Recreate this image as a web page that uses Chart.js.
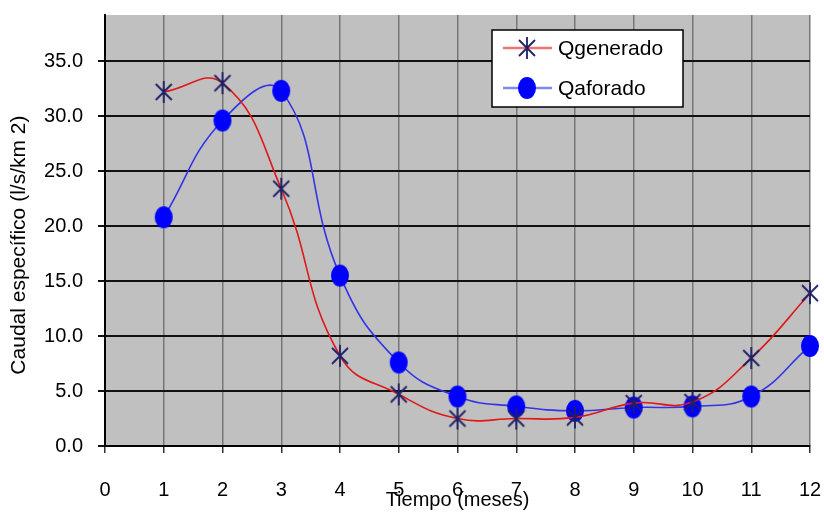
<!DOCTYPE html>
<html>
<head>
<meta charset="utf-8">
<script src="https://cdn.jsdelivr.net/npm/chart.js@4.4.1/dist/chart.umd.min.js"></script>
<style>
  html, body { margin: 0; padding: 0; background: #fff; }
  #wrap { width: 824px; height: 513px; }
</style>
</head>
<body>
<div id="wrap"><canvas id="grafico" width="824" height="513"></canvas></div>
<script>
// datos
var meses = [1, 2, 3, 4, 5, 6, 7, 8, 9, 10, 11, 12];
var qGenerado = [32.2, 33.0, 23.4, 8.2, 4.7, 2.5, 2.5, 2.6, 3.9, 4.0, 8.0, 13.9];
var qAforado = [20.8, 29.6, 32.3, 15.5, 7.6, 4.5, 3.6, 3.2, 3.5, 3.6, 4.5, 9.1];
var ticksY = [0, 5, 10, 15, 20, 25, 30, 35];
var etiquetas = ['Qgenerado', 'Qaforado'];

var fuente = "'Liberation Sans', Arial, sans-serif";

// marcador asterisco
function hacerAsterisco() {
    var c = document.createElement('canvas');
    c.width = 22; c.height = 24;
    var g = c.getContext('2d');
    g.strokeStyle = '#1f1f66';
    g.lineWidth = 1.8;
    g.beginPath();
    g.moveTo(3, 4); g.lineTo(19, 20);
    g.moveTo(19, 4); g.lineTo(3, 20);
    g.moveTo(11, 1); g.lineTo(11, 23);
    g.stroke();
    return c;
}

// marcador circulo (algo ovalado como en el original)
function hacerCirculo() {
    var c = document.createElement('canvas');
    c.width = 20; c.height = 24;
    var g = c.getContext('2d');
    g.fillStyle = '#0000ff';
    g.beginPath();
    g.ellipse(10, 12, 9, 11, 0, 0, Math.PI * 2);
    g.fill();
    return c;
}

var asterisco = hacerAsterisco();
var circulo = hacerCirculo();

function puntos(valores) {
    return meses.map(function (m, i) { return { x: m, y: valores[i] }; });
}

// fondo gris del area de trazado
var fondoPlugin = {
    id: 'fondo',
    beforeDraw: function (chart) {
        var a = chart.chartArea, ctx = chart.ctx;
        ctx.save();
        ctx.fillStyle = '#c0c0c0';
        ctx.fillRect(a.left, a.top, a.right - a.left, a.bottom - a.top);
        ctx.restore();
    }
};

// leyenda dentro del grafico
var leyendaPlugin = {
    id: 'leyendaInterna',
    afterDraw: function (chart) {
        var a = chart.chartArea, ctx = chart.ctx;
        var x = a.left + 387, y = a.top + 15, w = 191, h = 77;
        ctx.save();
        ctx.fillStyle = '#ffffff';
        ctx.fillRect(x, y, w, h);
        ctx.strokeStyle = '#000';
        ctx.lineWidth = 1.5;
        ctx.strokeRect(x, y, w, h);
        ctx.font = '21px ' + fuente;
        ctx.textBaseline = 'middle';
        chart.data.datasets.forEach(function (ds, i) {
            var fy = y + 18 + i * 40;
            ctx.strokeStyle = ds.borderColor;
            ctx.lineWidth = 2.5;
            ctx.globalAlpha = 0.6;
            ctx.beginPath();
            ctx.moveTo(x + 11, fy);
            ctx.lineTo(x + 60, fy);
            ctx.stroke();
            ctx.globalAlpha = 1;
            var img = ds.pointStyle;
            ctx.drawImage(img, x + 35 - img.width / 2, fy - img.height / 2);
            ctx.fillStyle = '#000';
            ctx.fillText(ds.label, x + 66, fy + 1);
        });
        ctx.restore();
    }
};

const ctx = document.getElementById('grafico').getContext('2d');
const grafico = new Chart(ctx, {
    type: 'line',
    data: {
        datasets: [{
            label: etiquetas[0],
            data: puntos(qGenerado),
            borderColor: '#e01818',
            borderWidth: 1.6,
            pointStyle: asterisco,
            tension: 0.45,
            clip: false
        }, {
            label: etiquetas[1],
            data: puntos(qAforado),
            borderColor: '#3434e6',
            borderWidth: 1.6,
            pointStyle: circulo,
            tension: 0.45,
            clip: false
        }]
    },
    options: {
        responsive: false,
        animation: false,
        layout: { padding: { top: 15, right: 14, left: 0, bottom: 0 } },
        plugins: {
            legend: { display: false },
            tooltip: { enabled: false }
        },
        scales: {
            x: {
                type: 'linear',
                min: 0,
                max: 12,
                afterFit: function (s) {
                    s.height = 67;
                    s.paddingLeft = 0;
                    s.paddingRight = 0;
                },
                ticks: {
                    stepSize: 1,
                    padding: 25,
                    color: '#000',
                    font: { family: fuente, size: 20 }
                },
                grid: {
                    color: '#777',
                    lineWidth: 1.5,
                    tickLength: 7,
                    tickColor: '#333'
                },
                border: { color: '#000', width: 2 },
                title: {
                    display: true,
                    text: 'Tiempo (meses)',
                    color: '#000',
                    font: { family: fuente, size: 20 },
                    padding: { top: 0, bottom: 1 }
                }
            },
            y: {
                min: 0,
                max: 39.2,
                afterFit: function (s) {
                    s.width = 105;
                    s.paddingTop = 0;
                    s.paddingBottom = 0;
                },
                afterBuildTicks: function (s) {
                    s.ticks = ticksY.map(function (v) { return { value: v }; });
                },
                ticks: {
                    padding: 15,
                    color: '#000',
                    font: { family: fuente, size: 20 },
                    callback: function (v) { return Number(v).toFixed(1); }
                },
                grid: {
                    color: '#111',
                    lineWidth: 2,
                    tickLength: 7,
                    tickColor: '#111'
                },
                border: { color: '#000', width: 2 },
                title: {
                    display: true,
                    text: 'Caudal específico (l/s/km 2)\u00a0\u00a0\u00a0\u00a0\u00a0',
                    color: '#000',
                    font: { family: fuente, size: 21 },
                    padding: { top: 7, bottom: 0 }
                }
            }
        }
    },
    plugins: [fondoPlugin, leyendaPlugin]
});
</script>
</body>
</html>
